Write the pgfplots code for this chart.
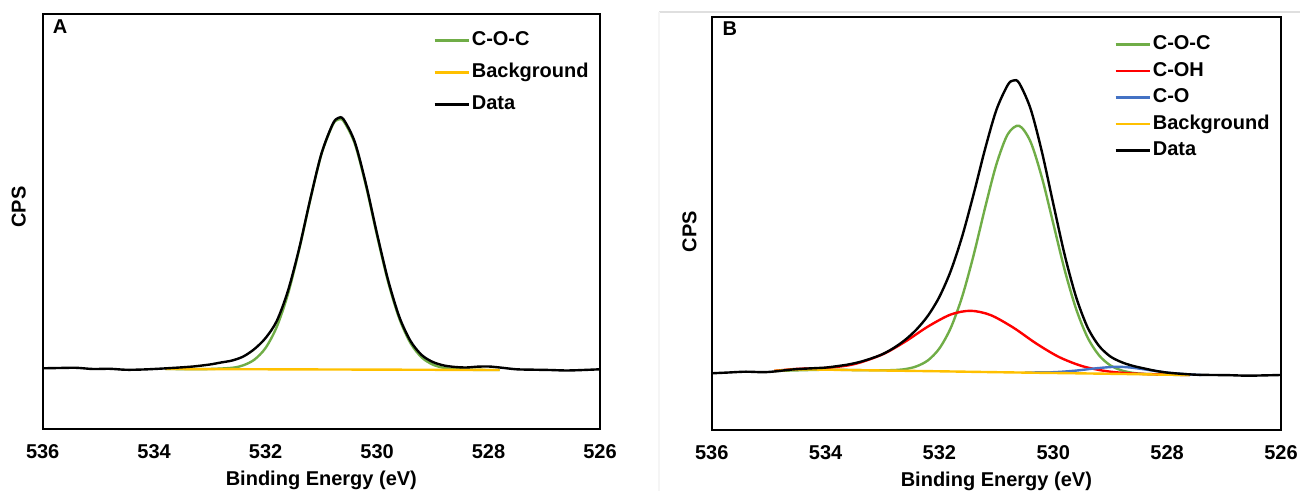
\documentclass[border=0pt]{standalone}
\usepackage{fontspec}
\setmainfont{Liberation Sans}
\usepackage{pgfplots}
\pgfplotsset{compat=1.18}
\definecolor{cgreen}{HTML}{70AD47}
\definecolor{cyellow}{HTML}{FFC000}
\definecolor{cred}{HTML}{FF0000}
\definecolor{cblue}{HTML}{4472C4}
\pgfplotsset{
  xps/.style={
    scale only axis,
    x dir=reverse,
    xmin=526, xmax=536,
    ymin=0,
    xtick={526,528,530,532,534,536},
    xticklabels={526,528,530,532,534,536},
    ytick=\empty,
    major tick length=0pt,
    axis line style={line width=1pt},
    xticklabel style={anchor=center, yshift=-11.5pt, font=\bfseries},
    xlabel={Binding Energy (eV)},
    xlabel style={at={(axis description cs:0.5,0)}, anchor=center, yshift=-25.5pt, font=\bfseries},
    ylabel={CPS},
    every axis plot/.append style={line width=1.2pt, no markers},
    legend cell align=left,
    legend image code/.code={\draw[##1, line width=1.2pt] (0pt,0pt) -- (17pt,0pt);},
    legend style={draw=none, fill=none, inner sep=0pt, font=\bfseries, anchor=north west,
      nodes={inner sep=0pt, text height=7.2pt, text depth=2.1pt}, column sep=1pt},
  }
}
\begin{document}
\begin{tikzpicture}[font=\bfseries]
\useasboundingbox (0,0) rectangle (650pt,245.5pt);
\draw[gray!25, line width=0.6pt] (329.5pt,239.5pt) -- (650pt,239.5pt);
\draw[gray!8, line width=0.6pt] (329.5pt,239.5pt) -- (329.5pt,0pt);
% Panel A
\begin{axis}[xps, at={(21.35pt,31pt)}, anchor=south west,
  width=278.65pt, height=207.5pt, ymax=415,
  ylabel style={at={(axis description cs:-0.043,0.535)}, anchor=center, font=\bfseries},
  legend style={at={(0.7004,0.9595)}, row sep=6.7pt}]
\addplot[cgreen, smooth] coordinates {(533.8,60.0) (533.4,59.9) (533.0,60.0) (532.6,61.2) (532.4,63.7) (532.2,69.4) (532.0,81.1) (531.8,102.1) (531.6,134.8) (531.4,178.9) (531.2,228.9) (531.0,274.5) (530.8,303.7) (530.7,309.4) (530.6,307.8) (530.4,285.4) (530.2,243.4) (530.0,193.4) (529.8,146.7) (529.6,110.3) (529.4,85.9) (529.2,71.6) (529.0,64.4) (528.8,61.1) (528.6,59.8) (528.2,59.1) (527.8,59.0)};
\addlegendentry{C-O-C}
\addplot[cyellow, smooth] coordinates {(533.8,60.0) (530.8,59.5) (527.8,59.0)};
\addlegendentry{Background}
\addplot[black, smooth] coordinates {(536.0,60.7)(535.7,61.0)(535.4,61.2)(535.1,60.0)(534.8,60.2)(534.5,59.2)(534.2,59.5)(533.9,60.3)(533.6,61.3)(533.3,62.5)(533.0,64.5)(532.8,66.5)(532.6,68.5)(532.4,72.5)(532.2,80.0)(532.0,91.0)(531.8,108)(531.6,138)(531.4,180)(531.2,229.5)(531.0,275)(530.8,304.5)(530.7,311)(530.6,309.5)(530.4,287)(530.2,245)(530.0,195)(529.8,148.5)(529.6,112)(529.4,88)(529.2,74)(529.0,67)(528.8,63.5)(528.6,62)(528.4,61.5)(528.2,62.3)(528.0,62.5)(527.8,61.5)(527.5,59.7)(527.2,59.3)(526.9,59.0)(526.6,58.5)(526.3,59)(526.0,59.7)};
\addlegendentry{Data}
\node[font=\bfseries, anchor=center] at (rel axis cs:0.031,0.9687) {A};
\end{axis}
% Panel B
\begin{axis}[xps, at={(355.85pt,30.5pt)}, anchor=south west,
  width=284.65pt, height=206.5pt, ymax=413,
  ylabel style={at={(axis description cs:-0.0388,0.4806)}, anchor=center, font=\bfseries},
  legend style={at={(0.7067,0.9569)}, row sep=3.95pt}]
\addplot[cgreen, smooth] coordinates {(534.9,59.0)(534.0,60.3)(533.4,59.8)(533.0,59.7)(532.8,59.9)(532.6,60.9)(532.4,63.7)(532.2,69.7)(532.0,81.6)(531.8,102.2)(531.6,133.4)(531.4,174.7)(531.2,221.7)(531.0,265.5)(530.8,295.7)(530.6,304.2)(530.4,288.3)(530.2,252.5)(530.0,206.4)(529.8,160.0)(529.6,121.2)(529.4,92.8)(529.2,74.9)(529.0,64.7)(528.8,59.6)(528.6,57.1)(528.4,56.1)(528.0,55.3)(527.6,55.0)};
\addlegendentry{C-O-C}
\addplot[cred, smooth] coordinates {(534.9,59.1)(534.5,61.1)(534.0,62.0)(533.5,65.8)(533.0,75.6)(532.6,88.4)(532.2,103.5)(531.8,115.5)(531.45,119.2)(531.1,114.9)(530.7,102.3)(530.3,86.5)(529.9,73.0)(529.5,64.0)(529.1,59.1)(528.7,56.8)(528.3,55.85)(527.6,55.0)};
\addlegendentry{C-OH}
\addplot[cblue, smooth] coordinates {(530.5,57.5)(530.0,57.8)(529.6,59.4)(529.3,61.4)(529.0,62.9)(528.8,63.1)(528.6,62.2)(528.3,59.8)(528.0,57.4)(527.7,55.9)(527.4,55.0)};
\addlegendentry{C-O}
\addplot[cyellow, smooth] coordinates {(534.9,59.0)(534.5,60.6)(534.0,60.3)(533.0,59.5)(532.0,58.7)(531.0,57.8)(530.0,57.0)(529.0,56.2)(528.0,55.3)(527.6,55.0)};
\addlegendentry{Background}
\addplot[black, smooth] coordinates {(536.0,56.7)(535.7,57.5)(535.4,58.3)(535.1,57.8)(534.9,58.5)(534.7,59.8)(534.5,60.9)(534.2,61.8)(534.0,62.4)(533.8,63.8)(533.6,65.5)(533.4,68.0)(533.2,71.5)(533.0,75.8)(532.8,82.1)(532.6,90.2)(532.4,100.7)(532.2,114.4)(532.0,133.2)(531.8,159.2)(531.6,193.7)(531.4,235.7)(531.2,280.6)(531.0,320.0)(530.8,345.0)(530.7,349.5)(530.6,347.0)(530.4,321.4)(530.2,278.2)(530.0,226.2)(529.8,175.1)(529.6,133.1)(529.4,102.9)(529.2,84.3)(529.0,73.6)(528.8,67.8)(528.6,64.1)(528.4,61.5)(528.2,59.1)(528.0,57.4)(527.8,56.4)(527.5,55.3)(527.2,55.0)(526.9,54.8)(526.6,54.3)(526.3,54.6)(526.0,55.0)};
\addlegendentry{Data}
\node[font=\bfseries, anchor=center] at (rel axis cs:0.032,0.971) {B};
\end{axis}
\end{tikzpicture}
\end{document}
